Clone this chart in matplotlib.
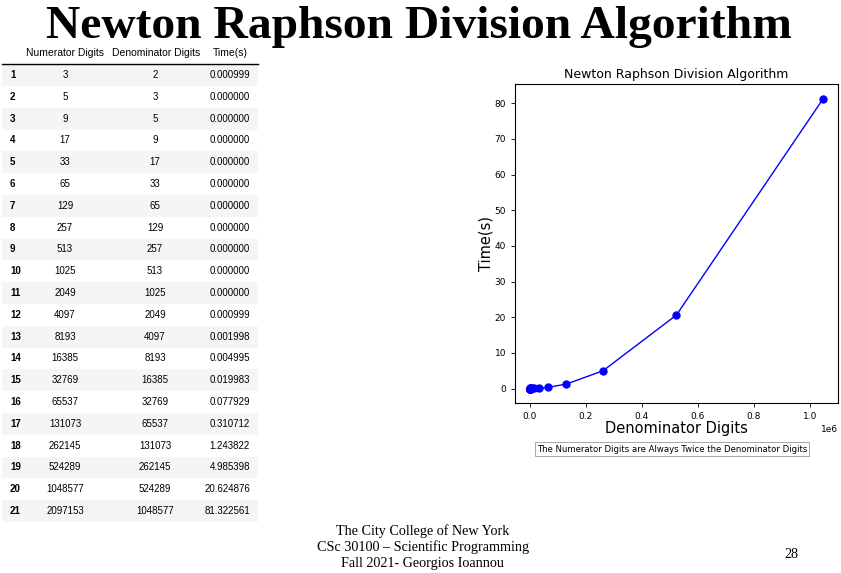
import matplotlib.pyplot as plt
from matplotlib.patches import Rectangle

# table / chart data
row_ids = list(range(1, 22))
numerator_digits = [3, 5, 9, 17, 33, 65, 129, 257, 513, 1025, 2049, 4097, 8193,
                    16385, 32769, 65537, 131073, 262145, 524289, 1048577, 2097153]
denominator_digits = [2, 3, 5, 9, 17, 33, 65, 129, 257, 513, 1025, 2049, 4097,
                      8193, 16385, 32769, 65537, 131073, 262145, 524289, 1048577]
times = [0.000999, 0.0, 0.0, 0.0, 0.0, 0.0, 0.0, 0.0, 0.0, 0.0, 0.0, 0.000999,
         0.001998, 0.004995, 0.019983, 0.077929, 0.310712, 1.243822, 4.985398,
         20.624876, 81.322561]
col_headers = ['Numerator Digits', 'Denominator Digits', 'Time(s)']

W, H = 841, 573
fig = plt.figure(figsize=(W / 100, H / 100), dpi=100)


def px_axes(x0, y0, x1, y1):
    # axes box given in pixel coords from top-left
    return fig.add_axes([x0 / W, 1 - y1 / H, (x1 - x0) / W, (y1 - y0) / H])


# overlay in pixel coords for slide text and the table
bg = fig.add_axes([0, 0, 1, 1])
bg.set_xlim(0, W)
bg.set_ylim(H, 0)
bg.axis('off')

bg.text(418.5, 38, 'Newton Raphson Division Algorithm', ha='center',
        va='baseline', fontsize=34.2, fontweight='bold',
        family='Liberation Serif')

# table
row0, row_h = 75, 21.8
bg.text(65, 53, col_headers[0], ha='center', va='center', fontsize=7.5,
        family='Liberation Sans')
bg.text(156, 53, col_headers[1], ha='center', va='center', fontsize=7.5,
        family='Liberation Sans')
bg.text(248, 53, col_headers[2], ha='right', va='center', fontsize=7.5,
        family='Liberation Sans')
bg.plot([2, 258], [64, 64], color='black', lw=1)
for i, rid in enumerate(row_ids):
    y = row0 + i * row_h
    if i % 2 == 0:
        bg.add_patch(Rectangle((2, y - row_h / 2), 256, row_h,
                               facecolor='#f5f5f5', edgecolor='none'))
    bg.text(10, y, str(rid), ha='left', va='center', fontsize=7,
            fontweight='bold', family='Liberation Sans')
    bg.text(65, y, str(numerator_digits[i]), ha='center', va='center',
            fontsize=7, family='Liberation Sans')
    bg.text(155, y, str(denominator_digits[i]), ha='center', va='center',
            fontsize=7, family='Liberation Sans')
    bg.text(250, y, f'{times[i]:.6f}', ha='right', va='center',
            fontsize=7, family='Liberation Sans')

# footer
footer = ['The City College of New York',
          'CSc 30100 \u2013 Scientific Programming',
          'Fall 2021- Georgios Ioannou']
for line, y in zip(footer, [531, 547, 564]):
    bg.text(423, y, line, ha='center', va='center', fontsize=10.2,
            family='Liberation Serif')
bg.text(791, 555, '28', ha='center', va='center', fontsize=10.2,
        family='Liberation Serif')

# chart
ax = px_axes(515, 84, 838, 403)
ax.plot(denominator_digits, times, color='blue', marker='o', markersize=5,
        lw=1)
ax.set_title('Newton Raphson Division Algorithm', fontsize=9, pad=4)
ax.set_xlabel('Denominator Digits', fontsize=10.5, labelpad=0)
ax.set_ylabel('Time(s)', fontsize=10.5, labelpad=1)
ax.tick_params(labelsize=6.5, length=3, width=0.6)
ax.xaxis.get_offset_text().set_fontsize(6.5)
for s in ax.spines.values():
    s.set_linewidth(0.8)

fig.text(672 / W, 1 - 449 / H,
         'The Numerator Digits are Always Twice the Denominator Digits',
         ha='center', va='center', fontsize=6.1,
         bbox=dict(facecolor='white', edgecolor='#999999', lw=0.6,
                   boxstyle='square,pad=0.25'))

fig.savefig('out.png', dpi=100)
